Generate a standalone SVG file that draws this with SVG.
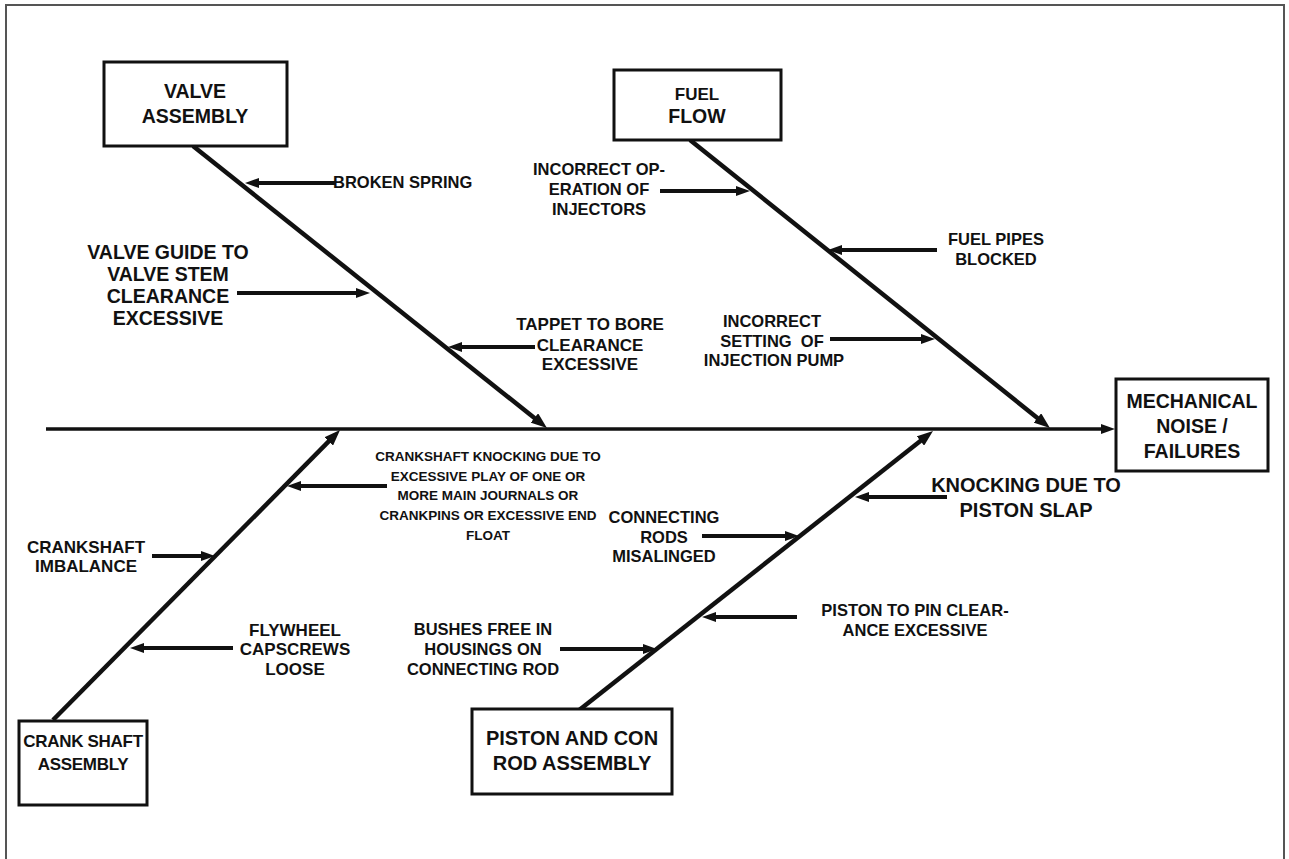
<svg xmlns="http://www.w3.org/2000/svg" width="1289" height="859" viewBox="0 0 1289 859">
  <style>
    .box { fill: #fff; stroke: #111; stroke-width: 3; }
    .frame { fill: none; stroke: #555; stroke-width: 2; }
    text { font-family: "Liberation Sans", Arial, Helvetica, sans-serif; font-weight: bold; fill: #111; white-space: pre; }
    .c { text-anchor: middle; }
    .t20 { font-size: 20px; }
    .t19 { font-size: 19.5px; }
    .t17 { font-size: 17px; }
    .t16 { font-size: 16.5px; }
    .t13 { font-size: 13.5px; }
    .tight { letter-spacing: -0.3px; }
    .bone { stroke: #111; stroke-width: 4.5; fill: none; marker-end: url(#headBig); }
    .spine { stroke: #111; stroke-width: 3.5; fill: none; marker-end: url(#head); }
    .cause { stroke: #111; stroke-width: 4; fill: none; marker-end: url(#head); }
  </style>
  <defs>
    <marker id="head" markerUnits="userSpaceOnUse" markerWidth="14" markerHeight="10" refX="7" refY="5" orient="auto">
      <path d="M0,0 L14,5 L0,10 z" fill="#111"/>
    </marker>
    <marker id="headBig" markerUnits="userSpaceOnUse" markerWidth="16" markerHeight="12" refX="8" refY="6" orient="auto">
      <path d="M0,0 L16,6 L0,12 z" fill="#111"/>
    </marker>
  </defs>

  <rect x="0" y="0" width="1289" height="859" fill="#fff"/>
  <rect class="frame" x="6" y="5" width="1278" height="900"/>

  <!-- spine, bones and cause arrows -->
  <g id="connectors">
    <line class="spine" x1="46" y1="429" x2="1108" y2="429"/>

    <line class="bone" x1="193" y1="146" x2="540.7" y2="423"/>
    <line class="bone" x1="690" y1="140" x2="1043.7" y2="423"/>
    <line class="bone" x1="53" y1="720" x2="334.4" y2="435.7"/>
    <line class="bone" x1="578" y1="711" x2="926.7" y2="436"/>

    <line class="cause" x1="335" y1="183" x2="252" y2="183"/>
    <line class="cause" x1="237" y1="293" x2="363" y2="293"/>
    <line class="cause" x1="535" y1="347" x2="455" y2="347"/>
    <line class="cause" x1="660" y1="191" x2="743" y2="191"/>
    <line class="cause" x1="937" y1="250" x2="835" y2="250"/>
    <line class="cause" x1="830" y1="339" x2="928" y2="339"/>
    <line class="cause" x1="947" y1="497" x2="862" y2="497"/>
    <line class="cause" x1="702" y1="536" x2="792" y2="536"/>
    <line class="cause" x1="797" y1="617" x2="709" y2="617"/>
    <line class="cause" x1="560" y1="649" x2="650" y2="649"/>
    <line class="cause" x1="387" y1="486" x2="294" y2="486"/>
    <line class="cause" x1="152" y1="556" x2="208" y2="556"/>
    <line class="cause" x1="233" y1="648" x2="137" y2="648"/>
  </g>

  <!-- category boxes -->
  <g id="valve-assembly">
    <rect class="box" x="104" y="62" width="183" height="84"/>
    <text class="c t19" x="195" y="98">VALVE</text>
    <text class="c t19" x="195" y="123">ASSEMBLY</text>
  </g>
  <g id="fuel-flow">
    <rect class="box" x="614" y="70" width="167" height="70"/>
    <text class="c t17" x="697" y="100">FUEL</text>
    <text class="c t19" x="697" y="123">FLOW</text>
  </g>
  <g id="mechanical-noise">
    <rect class="box" x="1116" y="379" width="152" height="92"/>
    <text class="c t19" x="1192" y="408">MECHANICAL</text>
    <text class="c t19" x="1192" y="433">NOISE /</text>
    <text class="c t19" x="1192" y="458">FAILURES</text>
  </g>
  <g id="crank-shaft-assembly">
    <rect class="box" x="19" y="721" width="128" height="84"/>
    <text class="c t17 tight" x="83" y="747">CRANK SHAFT</text>
    <text class="c t17 tight" x="83" y="770">ASSEMBLY</text>
  </g>
  <g id="piston-con-rod-assembly">
    <rect class="box" x="472" y="709" width="200" height="85"/>
    <text class="c t20" x="572" y="745">PISTON AND CON</text>
    <text class="c t20" x="572" y="770">ROD ASSEMBLY</text>
  </g>

  <!-- cause labels -->
  <g id="broken-spring">
    <text class="t16" x="333" y="188">BROKEN SPRING</text>
  </g>
  <g id="valve-guide">
    <text class="c t19" x="168" y="259">VALVE GUIDE TO</text>
    <text class="c t19" x="168" y="281">VALVE STEM</text>
    <text class="c t19" x="168" y="303">CLEARANCE</text>
    <text class="c t19" x="168" y="325">EXCESSIVE</text>
  </g>
  <g id="tappet">
    <text class="c t17" x="590" y="330">TAPPET TO BORE</text>
    <text class="c t17" x="590" y="351">CLEARANCE</text>
    <text class="c t17" x="590" y="370">EXCESSIVE</text>
  </g>
  <g id="injectors">
    <text class="c t16" x="599" y="175">INCORRECT OP-</text>
    <text class="c t16" x="599" y="195">ERATION OF</text>
    <text class="c t16" x="599" y="215">INJECTORS</text>
  </g>
  <g id="fuel-pipes">
    <text class="c t16" x="996" y="245">FUEL PIPES</text>
    <text class="c t16" x="996" y="265">BLOCKED</text>
  </g>
  <g id="injection-pump">
    <text class="c t16" x="772" y="327">INCORRECT</text>
    <text class="c t16" x="772" y="347">SETTING  OF</text>
    <text class="c t16" x="774" y="366">INJECTION PUMP</text>
  </g>
  <g id="piston-slap">
    <text class="c t20" x="1026" y="492">KNOCKING DUE TO</text>
    <text class="c t20" x="1026" y="517">PISTON SLAP</text>
  </g>
  <g id="rods-misaligned">
    <text class="c t16" x="664" y="523">CONNECTING</text>
    <text class="c t16" x="664" y="543">RODS</text>
    <text class="c t16" x="664" y="562">MISALINGED</text>
  </g>
  <g id="piston-pin">
    <text class="c t16" x="915" y="616">PISTON TO PIN CLEAR-</text>
    <text class="c t16" x="915" y="636">ANCE EXCESSIVE</text>
  </g>
  <g id="bushes">
    <text class="c t16" x="483" y="635">BUSHES FREE IN</text>
    <text class="c t16" x="483" y="655">HOUSINGS ON</text>
    <text class="c t16" x="483" y="675">CONNECTING ROD</text>
  </g>
  <g id="crankshaft-knocking">
    <text class="c t13" x="488" y="461">CRANKSHAFT KNOCKING DUE TO</text>
    <text class="c t13" x="488" y="481">EXCESSIVE PLAY OF ONE OR</text>
    <text class="c t13" x="488" y="500">MORE MAIN JOURNALS OR</text>
    <text class="c t13" x="488" y="520">CRANKPINS OR EXCESSIVE END</text>
    <text class="c t13" x="488" y="540">FLOAT</text>
  </g>
  <g id="crankshaft-imbalance">
    <text class="c t17" x="86" y="553">CRANKSHAFT</text>
    <text class="c t17" x="86" y="572">IMBALANCE</text>
  </g>
  <g id="flywheel">
    <text class="c t17" x="295" y="636">FLYWHEEL</text>
    <text class="c t17" x="295" y="655">CAPSCREWS</text>
    <text class="c t17" x="295" y="675">LOOSE</text>
  </g>
</svg>
